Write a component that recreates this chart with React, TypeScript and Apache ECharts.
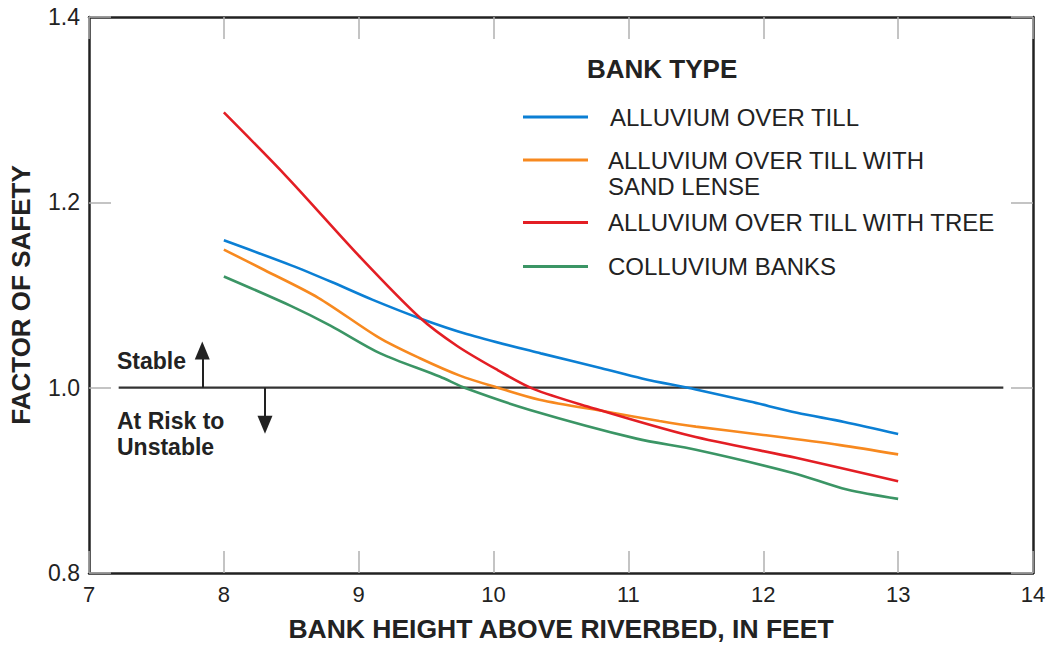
import React, { useEffect, useRef } from "react";
import * as echarts from "echarts";

// ---- data ----
const X_MIN = 7;
const X_MAX = 14;
const X_INTERVAL = 1;
const Y_MIN = 0.8;
const Y_MAX = 1.4;
const Y_INTERVAL = 0.2;

const SERIES_NAMES = [
  "ALLUVIUM OVER TILL",
  "ALLUVIUM OVER TILL WITH SAND LENSE",
  "ALLUVIUM OVER TILL WITH TREE",
  "COLLUVIUM BANKS",
];

const alluviumOverTill: [number, number][] = [
  [8, 1.159], [8.5, 1.132], [8.8, 1.114], [9.1, 1.095], [9.45, 1.075],
  [9.8, 1.058], [10.35, 1.037], [10.8, 1.021], [11.1, 1.01], [11.5, 0.998],
  [11.9, 0.985], [12.25, 0.973], [12.6, 0.963], [13, 0.95],
];

const alluviumSandLense: [number, number][] = [
  [8, 1.149], [8.3, 1.127], [8.7, 1.097], [9.15, 1.054], [9.45, 1.032],
  [9.75, 1.013], [10.03, 1.0], [10.34, 0.987], [10.84, 0.974], [11.23, 0.964],
  [11.5, 0.958], [12, 0.949], [12.57, 0.938], [13, 0.928],
];

const alluviumTree: [number, number][] = [
  [8, 1.297], [8.47, 1.227], [9.01, 1.141], [9.45, 1.076], [9.73, 1.045],
  [10.03, 1.019], [10.29, 0.999], [10.69, 0.98], [11.46, 0.948], [12.25, 0.924],
  [13, 0.899],
];

const colluviumBanks: [number, number][] = [
  [8, 1.12], [8.5, 1.088], [8.79, 1.067], [9.16, 1.037], [9.6, 1.012],
  [9.8, 0.999], [10.27, 0.976], [11.06, 0.945], [11.5, 0.933], [12.22, 0.908],
  [12.62, 0.89], [13, 0.88],
];

const SERIES_DATA = [alluviumOverTill, alluviumSandLense, alluviumTree, colluviumBanks];

// threshold line (factor of safety = 1.0)
const refLine: [number, number][] = [[7.22, 1.0], [13.78, 1.0]];
// arrows: x, from, to
const arrowUp = { x: 7.84, from: 1.0, to: 1.04 };
const arrowDown = { x: 8.305, from: 1.0, to: 0.96 };

// ---- styles ----
const COLORS = ["#0b7fd4", "#f7891f", "#e31e24", "#3b9565"];
const FONT = "'Liberation Sans', Arial, Helvetica, sans-serif";
const TEXT = "#222";
const TICK = "#b0b0b0";

export default function App() {
  const ref = useRef<HTMLDivElement>(null);

  useEffect(() => {
    if (!ref.current) return;
    const chart = echarts.init(ref.current, null, { renderer: "svg" });

    const axisLine = { show: true, lineStyle: { color: TEXT, width: 2.5 } };
    const axisTick = { show: true, inside: true, length: 22, lineStyle: { color: TICK, width: 1.5 } };

    const legendTops = [105, 121, 210.5, 254.5];

    const option: any = {
      animation: false,
      backgroundColor: "#fff",
      textStyle: { fontFamily: FONT },
      title: {
        text: "BANK TYPE",
        left: 587,
        top: 56,
        padding: 0,
        textStyle: { fontFamily: FONT, fontSize: 26, fontWeight: "bold", color: TEXT },
      },
      legend: SERIES_NAMES.map((name, i) => ({
        data: [name],
        left: 523,
        top: legendTops[i],
        padding: 0,
        orient: "vertical",
        icon: "rect",
        itemWidth: 65,
        itemHeight: 3,
        selectedMode: false,
        formatter: (n: string) =>
          n === "ALLUVIUM OVER TILL WITH SAND LENSE" ? "\nALLUVIUM OVER TILL WITH\nSAND LENSE" : n,
        textStyle: {
          fontFamily: FONT,
          fontSize: 24,
          color: TEXT,
          lineHeight: i === 1 ? 26 : 24,
          padding: [0, 0, 0, i === 0 ? 17 : 15],
        },
      })),
      grid: { left: 89, right: 16, top: 17, bottom: 72, containLabel: false },
      xAxis: [
        {
          type: "value",
          min: X_MIN,
          max: X_MAX,
          interval: X_INTERVAL,
          position: "bottom",
          axisLine,
          axisTick,
          splitLine: { show: false },
          axisLabel: { fontFamily: FONT, fontSize: 22, color: TEXT, margin: 10 },
          name: "BANK HEIGHT ABOVE RIVERBED, IN FEET",
          nameLocation: "middle",
          nameGap: 42,
          nameTextStyle: { fontFamily: FONT, fontSize: 26.5, fontWeight: "bold", color: TEXT },
        },
        {
          type: "value",
          min: X_MIN,
          max: X_MAX,
          interval: X_INTERVAL,
          position: "top",
          axisLine,
          axisTick,
          splitLine: { show: false },
          axisLabel: { show: false },
        },
      ],
      yAxis: [
        {
          type: "value",
          min: Y_MIN,
          max: Y_MAX,
          interval: Y_INTERVAL,
          position: "left",
          axisLine,
          axisTick,
          splitLine: { show: false },
          axisLabel: {
            fontFamily: FONT,
            fontSize: 23,
            color: TEXT,
            margin: 9,
            formatter: (v: number) => v.toFixed(1),
          },
          name: "FACTOR OF SAFETY",
          nameLocation: "middle",
          nameGap: 55,
          nameRotate: 90,
          nameTextStyle: { fontFamily: FONT, fontSize: 26, fontWeight: "bold", color: TEXT },
        },
        {
          type: "value",
          min: Y_MIN,
          max: Y_MAX,
          interval: Y_INTERVAL,
          position: "right",
          axisLine,
          axisTick,
          splitLine: { show: false },
          axisLabel: { show: false },
        },
      ],
      series: [
        ...SERIES_NAMES.map((name, i) => ({
          name,
          type: "line",
          data: SERIES_DATA[i],
          xAxisIndex: 0,
          yAxisIndex: 0,
          showSymbol: false,
          symbol: "none",
          smooth: 0.3,
          color: COLORS[i],
          lineStyle: { color: COLORS[i], width: 2.6 },
          z: 3,
        })),
        {
          name: "threshold",
          type: "line",
          data: refLine,
          xAxisIndex: 0,
          yAxisIndex: 0,
          symbol: "none",
          lineStyle: { color: "#333", width: 2.2 },
          z: 2,
          markLine: {
            silent: true,
            symbol: ["none", "triangle"],
            symbolSize: [15, 18],
            label: { show: false },
            lineStyle: { color: "#222", width: 2, type: "solid" },
            data: [
              [{ coord: [arrowUp.x, arrowUp.from] }, { coord: [arrowUp.x, arrowUp.to] }],
              [{ coord: [arrowDown.x, arrowDown.from] }, { coord: [arrowDown.x, arrowDown.to] }],
            ],
          },
        },
      ],
      graphic: [
        {
          type: "text",
          left: 117,
          top: 349,
          style: { text: "Stable", fontFamily: FONT, fontSize: 23, fontWeight: "bold", fill: TEXT },
        },
        {
          type: "text",
          left: 117,
          top: 408,
          style: {
            text: "At Risk to\nUnstable",
            fontFamily: FONT,
            fontSize: 23,
            fontWeight: "bold",
            lineHeight: 26,
            fill: TEXT,
          },
        },
      ],
    };

    chart.setOption(option);
    return () => chart.dispose();
  }, []);

  return (
    <div
      ref={ref}
      style={{ position: "fixed", left: 0, top: 0, width: 1049, height: 647, background: "#fff" }}
    />
  );
}
